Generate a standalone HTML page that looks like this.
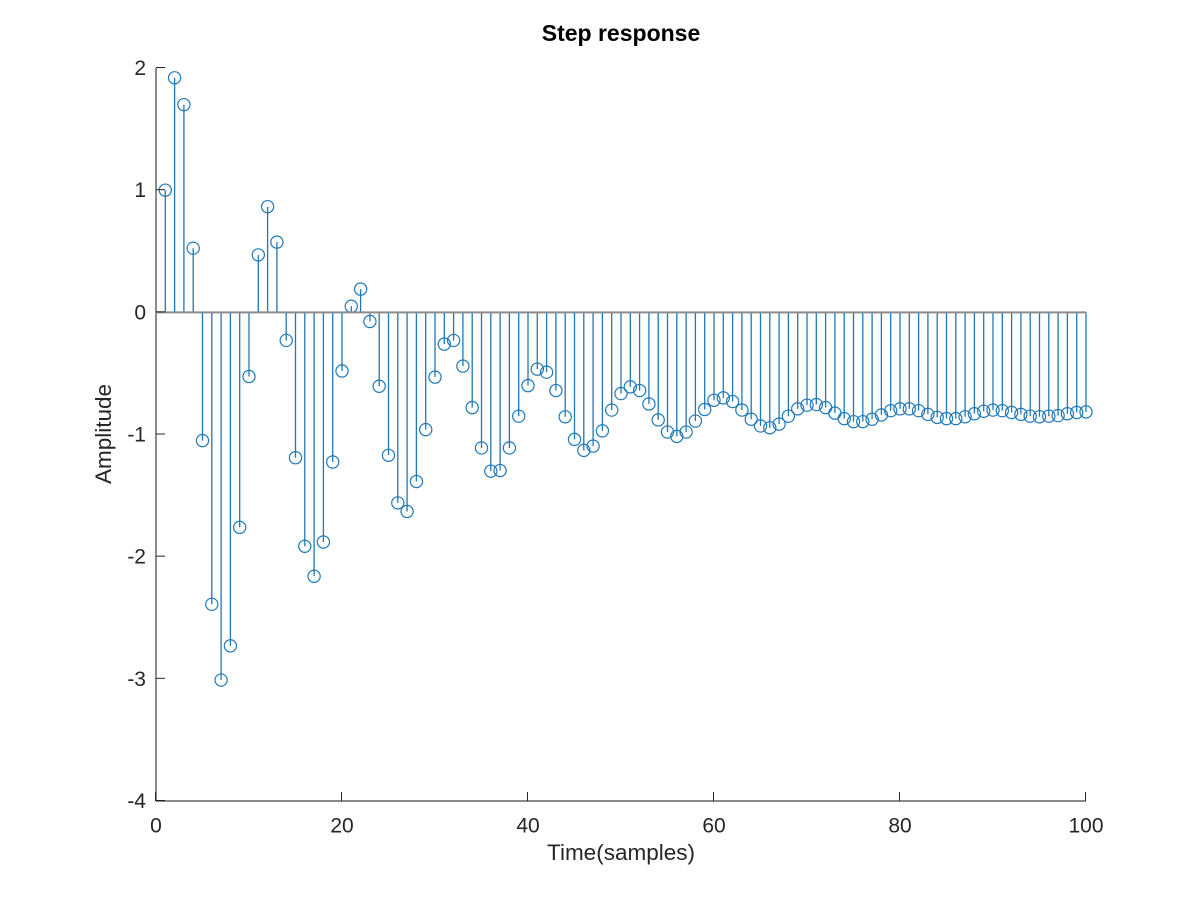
<!DOCTYPE html>
<html>
<head>
<meta charset="utf-8">
<title>Step response</title>
<style>
html,body{margin:0;padding:0;background:#fff}
svg{display:block}
text{font-family:"Liberation Sans",sans-serif}
</style>
</head>
<body>
<svg id="chart" xmlns="http://www.w3.org/2000/svg" width="1200" height="900" viewBox="0 0 1200 900">
<rect width="1200" height="900" fill="#ffffff"/>
<g id="series"></g>
<g id="axes"></g>
<text x="621" y="41" text-anchor="middle" font-size="23" font-weight="bold" fill="#000">Step response</text>
<text x="621" y="860" text-anchor="middle" font-size="22.5" fill="#262626">Time(samples)</text>
<text transform="translate(111 434) rotate(-90)" text-anchor="middle" font-size="22.5" fill="#262626">Amplitude</text>
</svg>
<script>
const amplitudes = [
 1.00, 1.92, 1.70, 0.525, -1.05, -2.39, -3.01, -2.73, -1.76, -0.525,
 0.47, 0.865, 0.575, -0.23, -1.19, -1.915, -2.16, -1.88, -1.225, -0.48,
 0.05, 0.19, -0.075, -0.605, -1.17, -1.56, -1.63, -1.385, -0.96, -0.53,
 -0.26, -0.23, -0.44, -0.78, -1.11, -1.30, -1.295, -1.11, -0.85, -0.60,
 -0.465, -0.49, -0.64, -0.855, -1.04, -1.13, -1.095, -0.97, -0.80, -0.665,
 -0.61, -0.64, -0.75, -0.88, -0.98, -1.015, -0.98, -0.89, -0.795, -0.72,
 -0.70, -0.73, -0.80, -0.875, -0.93, -0.945, -0.915, -0.85, -0.79, -0.76,
 -0.755, -0.78, -0.825, -0.87, -0.895, -0.895, -0.875, -0.84, -0.805, -0.79,
 -0.79, -0.805, -0.835, -0.86, -0.87, -0.87, -0.855, -0.83, -0.81, -0.80,
 -0.805, -0.82, -0.835, -0.85, -0.855, -0.85, -0.845, -0.83, -0.82, -0.815
];
const xTicks = [0, 20, 40, 60, 80, 100];
const yTicks = [2, 1, 0, -1, -2, -3, -4];
const xDomain = [0, 100];
const yDomain = [-4, 2];

const plot = {left: 156, right: 1086, top: 68, bottom: 801};
const NS = 'http://www.w3.org/2000/svg';
const scaleX = v => plot.left + (v - xDomain[0]) / (xDomain[1] - xDomain[0]) * (plot.right - plot.left);
const scaleY = v => plot.bottom - (v - yDomain[0]) / (yDomain[1] - yDomain[0]) * (plot.bottom - plot.top);

function make(tag, attrs, parent) {
  const el = document.createElementNS(NS, tag);
  for (const k in attrs) el.setAttribute(k, attrs[k]);
  parent.appendChild(el);
  return el;
}

const seriesGroup = document.getElementById('series');
const axesGroup = document.getElementById('axes');
const stemColor = '#1f78b8';
const axisColor = '#8a8a8a';
const tickColor = '#262626';

amplitudes.forEach((v, i) => {
  const x = scaleX(i + 1);
  const y = scaleY(v);
  const stem = make('line', {x1: x, x2: x, y1: scaleY(0), y2: y, stroke: stemColor, 'stroke-width': 1.3}, seriesGroup);
  
  
  const marker = make('circle', {cx: x, cy: y, r: 6.1, fill: 'none', stroke: stemColor, 'stroke-width': 1.2}, seriesGroup);
  
  
});

const baseline = make('line', {x1: plot.left, x2: plot.right, y1: scaleY(0), y2: scaleY(0), stroke: axisColor, 'stroke-width': 2}, axesGroup);



const xAxisLine = make('line', {x1: plot.left, x2: plot.right, y1: plot.bottom, y2: plot.bottom, stroke: axisColor, 'stroke-width': 2}, axesGroup);



const yAxisLine = make('line', {x1: plot.left, x2: plot.left, y1: plot.top, y2: plot.bottom, stroke: axisColor, 'stroke-width': 2}, axesGroup);



xTicks.forEach(t => {
  const x = scaleX(t);
  const tick = make('line', {x1: x - 0.5, x2: x - 0.5, y1: plot.bottom, y2: plot.bottom - 9, stroke: tickColor, 'stroke-width': 1}, axesGroup);
  
  
  const label = make('text', {x: x, y: 832.5, 'text-anchor': 'middle', 'font-size': 21, fill: tickColor}, axesGroup);
  
  
  label.textContent = t;
});

yTicks.forEach(t => {
  const y = scaleY(t);
  const tick = make('line', {x1: plot.left, x2: plot.left + 9, y1: y - 0.5, y2: y - 0.5, stroke: tickColor, 'stroke-width': 1}, axesGroup);
  
  
  const label = make('text', {x: 146, y: y + 7, 'text-anchor': 'end', 'font-size': 21, fill: tickColor}, axesGroup);
  
  
  label.textContent = t;
});
</script>
</body>
</html>
